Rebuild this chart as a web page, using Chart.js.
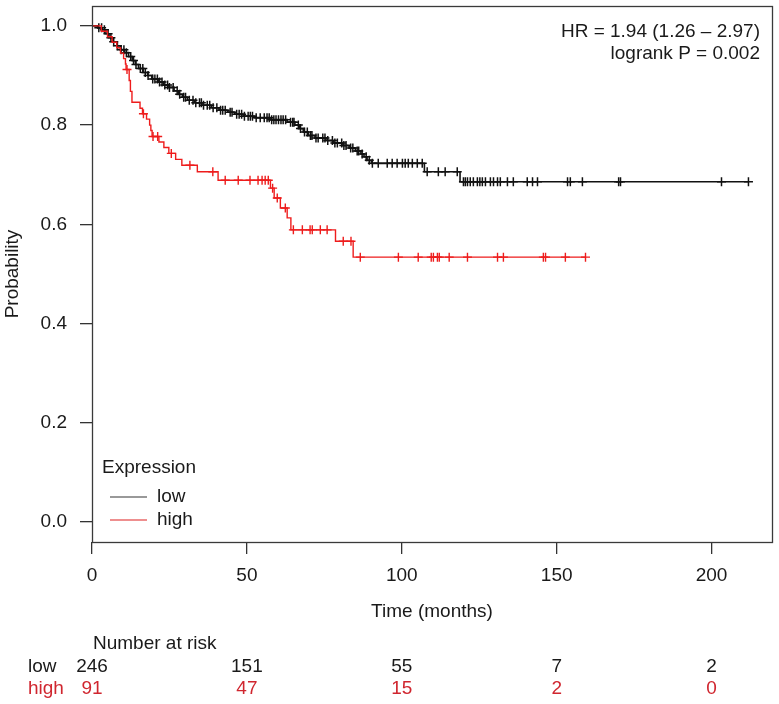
<!DOCTYPE html>
<html><head><meta charset="utf-8">
<script src="https://cdn.jsdelivr.net/npm/chart.js@4/dist/chart.umd.min.js"></script>
<style>html,body{margin:0;padding:0;background:#fff}#wrap{width:779px;height:704px}</style>
</head><body><div id="wrap"><canvas id="c" width="779" height="704"></canvas></div>
<script>
// ---- data ----
const seriesNames = ['low', 'high'];
const legendTitle = 'Expression';
const xTicks = [0, 50, 100, 150, 200];
const yTicks = [0, 0.2, 0.4, 0.6, 0.8, 1.0];

const lowEventTimes = [1.8, 3.3, 4.5, 5.5, 6.8, 8.0, 9.2, 10.5, 11.8, 13.0, 14.0, 15.0, 16.5, 18.0, 19.3, 21.5, 23.0, 24.5, 26.5, 28.0, 29.2, 30.8, 33.0, 35.5, 38.5, 41.0, 43.8, 46.0, 48.8, 52.5, 57.8, 63.0, 65.5, 67.0, 68.2, 69.8, 72.0, 75.5, 78.0, 81.0, 83.0, 85.0, 86.8, 87.8, 88.8, 90.2, 107.3, 118.8];
const lowSurvival = [0.996, 0.992, 0.984, 0.976, 0.968, 0.960, 0.952, 0.946, 0.938, 0.930, 0.922, 0.914, 0.906, 0.900, 0.893, 0.887, 0.881, 0.876, 0.869, 0.862, 0.856, 0.850, 0.845, 0.840, 0.835, 0.830, 0.826, 0.822, 0.818, 0.815, 0.811, 0.806, 0.800, 0.793, 0.786, 0.779, 0.774, 0.769, 0.764, 0.759, 0.754, 0.748, 0.742, 0.736, 0.729, 0.723, 0.706, 0.686];
const lowCensorTimes = [2.2, 3.1, 4.0, 5.2, 6.1, 7.0, 8.2, 9.4, 10.3, 11.1, 12.5, 13.4, 14.2, 15.6, 16.4, 17.2, 18.1, 19.6, 20.3, 21.1, 21.8, 22.6, 23.5, 24.4, 25.0, 26.2, 27.5, 28.3, 29.6, 30.2, 31.4, 32.6, 33.5, 34.7, 35.3, 36.0, 37.2, 38.0, 39.1, 40.3, 41.5, 42.2, 43.0, 44.6, 45.2, 46.7, 47.5, 48.3, 49.2,
  50.4, 51.1, 51.8, 53.0, 54.3, 55.6, 56.5, 57.2, 58.0, 58.7, 59.4, 60.2, 61.0, 61.7, 62.5, 64.1, 64.8, 65.2, 66.6, 67.3, 68.6, 69.5, 70.5, 71.0, 72.3, 73.0, 74.5, 75.2, 76.1, 77.6, 78.4, 79.2, 80.6, 81.3, 82.0, 83.5, 84.2, 85.6, 86.1, 87.2, 88.5, 89.5,
  90.5, 92.4, 95.3, 96.9, 98.5, 100.2, 101.1, 102.1, 103.4, 105.0, 106.6,
  108.2, 111.8, 114.0, 117.9,
  119.9, 120.5, 121.2, 122.1, 123.1, 124.4, 125.2, 126.0, 127.0, 128.6, 129.6, 130.9, 131.8, 134.1, 136.0, 140.5, 142.2, 143.8, 153.5, 154.4, 158.3, 170.0, 170.6, 203.2, 211.9];

const highEventTimes = [3.0, 5.0, 6.5, 8.0, 9.2, 10.2, 10.8, 11.0, 12.0, 12.4, 12.9, 15.5, 16.3, 17.6, 18.6, 19.0, 19.4, 21.6, 23.2, 24.8, 27.0, 29.0, 34.0, 40.7, 57.6, 58.8, 60.8, 63.0, 64.2, 78.6, 84.3];
const highSurvival = [0.989, 0.978, 0.967, 0.956, 0.945, 0.934, 0.923, 0.912, 0.890, 0.868, 0.846, 0.834, 0.823, 0.812, 0.800, 0.789, 0.777, 0.766, 0.755, 0.743, 0.731, 0.719, 0.706, 0.689, 0.673, 0.653, 0.633, 0.613, 0.589, 0.566, 0.534];
const highCensorTimes = [11.3, 16.6, 19.7, 21.2, 25.6, 31.6, 39.0, 43.0, 47.2, 51.0, 53.6, 54.9, 55.9, 56.9, 58.3, 59.8, 62.4, 65.0, 67.9, 70.4, 71.1, 73.7, 75.9, 81.1, 83.6, 86.6, 98.9, 105.3, 109.5, 110.2, 111.5, 112.1, 115.3, 121.2, 130.9, 132.8, 145.7, 146.4, 152.8, 159.3];

const riskTimes = [0, 50, 100, 150, 200];
const riskLow = [246, 151, 55, 7, 2];
const riskHigh = [91, 47, 15, 2, 0];
const statLines = ['HR = 1.94 (1.26 \u2013 2.97)', 'logrank P = 0.002'];

// ---- styling ----
const FONT = '"Liberation Sans", Arial, Helvetica, sans-serif';
const FS = 19;
const BLACK = '#111111';
const RED = '#ee1c1c';
const RED_TEXT = '#d0262f';
const TXT = '#1a1a1a';

function survAt(times, surv, t) {
  let s = 1;
  for (let i = 0; i < times.length; i++) { if (times[i] <= t) s = surv[i]; else break; }
  return s;
}
function curve(times, surv, censors) {
  const end = Math.max(...censors, times[times.length - 1]);
  const pts = [{x: 0, y: 1}];
  times.forEach((t, i) => pts.push({x: t, y: surv[i]}));
  pts.push({x: end, y: survAt(times, surv, end)});
  return pts;
}
function censorPts(times, surv, censors) {
  return censors.map(t => ({x: t, y: survAt(times, surv, t)}));
}

const overlay = {
  id: 'overlay',
  afterDraw(chart) {
    const {ctx, chartArea: a, scales: {x}} = chart;
    ctx.save();
    ctx.strokeStyle = '#3a3a3a';
    ctx.lineWidth = 1.3;
    ctx.strokeRect(a.left + 0.5, a.top + 0.5, a.right - a.left, a.bottom - a.top);
    ctx.font = FS + 'px ' + FONT;
    ctx.textBaseline = 'middle';
    ctx.fillStyle = TXT;
    ctx.textAlign = 'right';
    ctx.fillText(statLines[0], a.right - 12, 32);
    ctx.fillText(statLines[1], a.right - 12, 54);
    ctx.textAlign = 'left';
    ctx.fillText(legendTitle, 102, 468);
    const legCols = ['#777777', '#e86a6a'];
    const legY = [497, 520];
    seriesNames.forEach((n, i) => {
      ctx.strokeStyle = legCols[i];
      ctx.lineWidth = 1.3;
      ctx.beginPath(); ctx.moveTo(110, legY[i]); ctx.lineTo(147, legY[i]); ctx.stroke();
      ctx.fillStyle = TXT;
      ctx.fillText(n, 157, legY[i]);
    });
    ctx.fillStyle = TXT;
    ctx.fillText('Number at risk', 93, 644);
    ctx.fillText(seriesNames[0], 28, 667);
    ctx.fillStyle = RED_TEXT;
    ctx.fillText(seriesNames[1], 28, 689);
    ctx.textAlign = 'center';
    riskTimes.forEach((t, i) => {
      const px = x.getPixelForValue(t);
      ctx.fillStyle = TXT; ctx.fillText(String(riskLow[i]), px, 667);
      ctx.fillStyle = RED_TEXT; ctx.fillText(String(riskHigh[i]), px, 689);
    });
    ctx.restore();
  }
};

const tickFont = {family: FONT, size: FS};

new Chart(document.getElementById('c'), {
  type: 'line',
  data: {
    datasets: [
      {label: 'high', data: curve(highEventTimes, highSurvival, highCensorTimes), borderColor: RED, borderWidth: 1.4, stepped: 'before', pointRadius: 0, fill: false},
      {label: 'high censored', type: 'scatter', data: censorPts(highEventTimes, highSurvival, highCensorTimes), pointStyle: 'cross', pointRadius: 4.5, borderColor: RED, borderWidth: 1.4, backgroundColor: RED},
      {label: 'low', data: curve(lowEventTimes, lowSurvival, lowCensorTimes), borderColor: BLACK, borderWidth: 1.6, stepped: 'before', pointRadius: 0, fill: false},
      {label: 'low censored', type: 'scatter', data: censorPts(lowEventTimes, lowSurvival, lowCensorTimes), pointStyle: 'cross', pointRadius: 4.5, borderColor: BLACK, borderWidth: 1.5, backgroundColor: BLACK}
    ]
  },
  options: {
    responsive: false, animation: false, events: [],
    layout: {padding: {top: 4, right: 7, left: 0, bottom: 0}},
    plugins: {legend: {display: false}, tooltip: {enabled: false}},
    scales: {
      x: {
        type: 'linear', min: 0, max: 219.5,
        afterBuildTicks: s => { s.ticks = xTicks.map(v => ({value: v})); },
        afterFit: s => { s.height = 162; s.paddingLeft = 0; s.paddingRight = 0; },
        ticks: {padding: 10, color: TXT, font: tickFont, maxRotation: 0, autoSkip: false, callback: v => String(v)},
        grid: {drawOnChartArea: false, tickLength: 12, color: '#333', lineWidth: 1.3},
        border: {display: false},
        title: {display: true, text: 'Time (months)', color: TXT, font: tickFont, padding: {top: 0, bottom: 81}}
      },
      y: {
        type: 'linear', min: -0.04, max: 1.04,
        afterBuildTicks: s => { s.ticks = yTicks.map(v => ({value: v})); },
        afterFit: s => { s.width = 92; s.paddingTop = 0; s.paddingBottom = 0; },
        ticks: {padding: 13, color: TXT, font: tickFont, callback: v => Number(v).toFixed(1)},
        grid: {drawOnChartArea: false, tickLength: 12, color: '#333', lineWidth: 1.3},
        border: {display: false},
        title: {display: true, text: 'Probability', color: TXT, font: tickFont, padding: {top: 1, bottom: 0}}
      }
    }
  },
  plugins: [overlay]
});
</script></body></html>
